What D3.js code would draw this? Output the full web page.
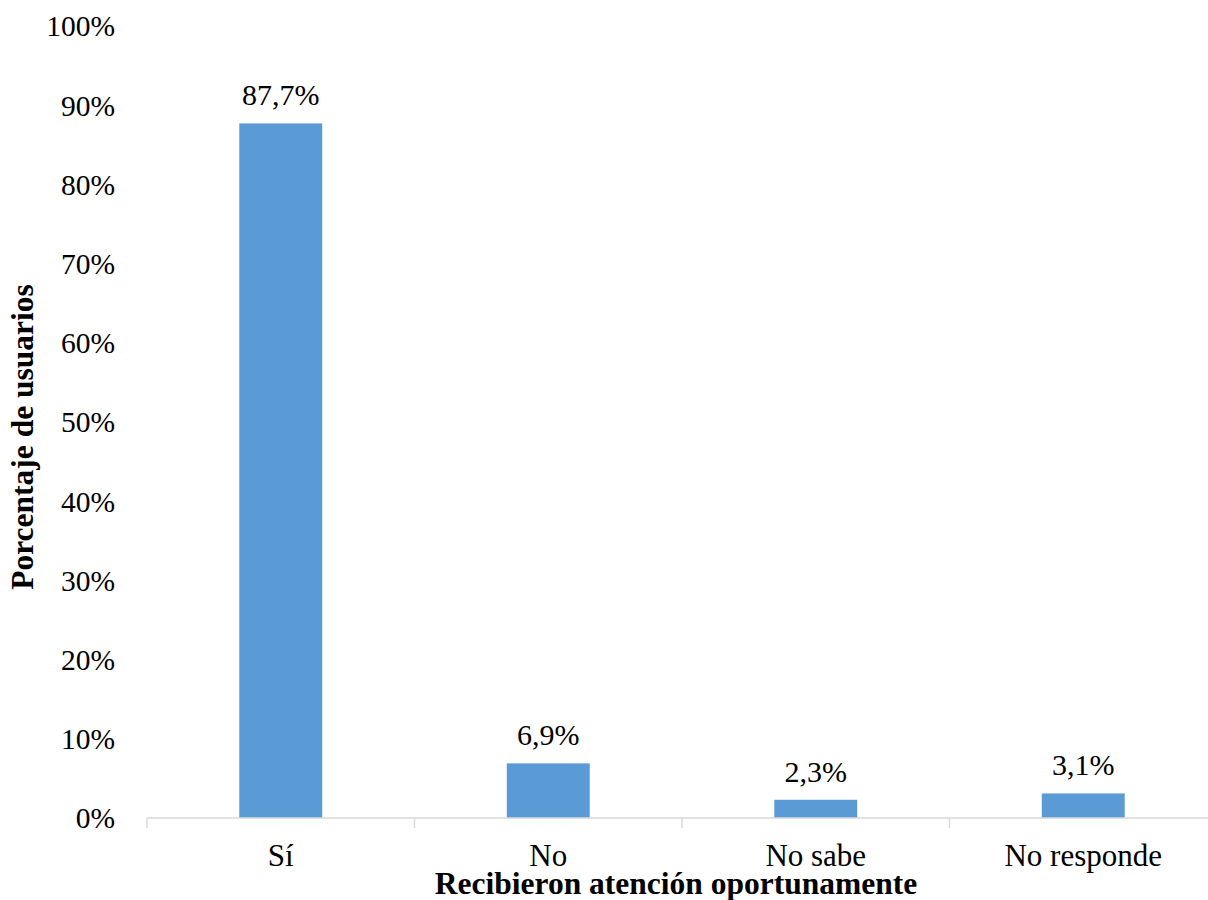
<!DOCTYPE html>
<html>
<head>
<meta charset="utf-8">
<script src="https://cdn.jsdelivr.net/npm/d3@7"></script>
<style>
  body { margin: 0; background: #fff; }
  svg text { font-family: "Liberation Serif", "Times New Roman", serif; fill: #000; }
</style>
</head>
<body>
<svg id="chart" width="1208" height="900"></svg>
<script>
const categories = ["Sí", "No", "No sabe", "No responde"];
const values = [87.7, 6.9, 2.3, 3.1];
const valueLabels = ["87,7%", "6,9%", "2,3%", "3,1%"];
const yTicks = [0, 10, 20, 30, 40, 50, 60, 70, 80, 90, 100];

const svg = d3.select("#chart");
const margin = { left: 147, right: 1217, top: 26, bottom: 818 };

const x = d3.scaleBand()
  .domain(categories)
  .range([margin.left, margin.right])
  .paddingInner(0.69)
  .paddingOuter(0.345);

const y = d3.scaleLinear().domain([0, 100]).range([margin.bottom, margin.top]);

// Y tick labels
svg.append("g")
  .selectAll("text")
  .data(yTicks)
  .join("text")
  .attr("x", 115)
  .attr("y", d => y(d))
  .attr("dy", "0.35em")
  .attr("text-anchor", "end")
  .style("font-size", "29.5px")
  .text(d => d + "%");

// Bars
svg.append("g")
  .selectAll("rect")
  .data(values)
  .join("rect")
  .attr("x", (d, i) => x(categories[i]))
  .attr("width", x.bandwidth())
  .attr("y", d => y(d))
  .attr("height", d => y(0) - y(d))
  .attr("fill", "#5b9bd5");

// Value labels
svg.append("g")
  .selectAll("text")
  .data(values)
  .join("text")
  .attr("x", (d, i) => x(categories[i]) + x.bandwidth() / 2)
  .attr("y", d => y(d) - 18)
  .attr("text-anchor", "middle")
  .style("font-size", "30px")
  .text((d, i) => valueLabels[i]);

// X axis line and category separators
const step = x.step();
const axis = svg.append("g");
axis.append("line")
  .attr("x1", margin.left).attr("x2", margin.right)
  .attr("y1", y(0)).attr("y2", y(0))
  .attr("stroke", "#d9d9d9").attr("stroke-width", 1.5);
axis.selectAll("line.tick")
  .data(d3.range(categories.length + 1))
  .join("line")
  .attr("class", "tick")
  .attr("x1", i => margin.left + i * step)
  .attr("x2", i => margin.left + i * step)
  .attr("y1", y(0)).attr("y2", y(0) + 10)
  .attr("stroke", "#d9d9d9").attr("stroke-width", 1.5);

// Category labels
svg.append("g")
  .selectAll("text")
  .data(categories)
  .join("text")
  .attr("x", d => x(d) + x.bandwidth() / 2)
  .attr("y", 866)
  .attr("text-anchor", "middle")
  .style("font-size", "31px")
  .text(d => d);

// Axis titles
svg.append("text")
  .attr("x", 676)
  .attr("y", 894)
  .attr("text-anchor", "middle")
  .style("font-size", "31.5px")
  .style("font-weight", "bold")
  .text("Recibieron atención oportunamente");

svg.append("text")
  .attr("transform", "translate(33,437) rotate(-90)")
  .attr("text-anchor", "middle")
  .style("font-size", "31.5px")
  .style("font-weight", "bold")
  .text("Porcentaje de usuarios");
</script>
</body>
</html>
